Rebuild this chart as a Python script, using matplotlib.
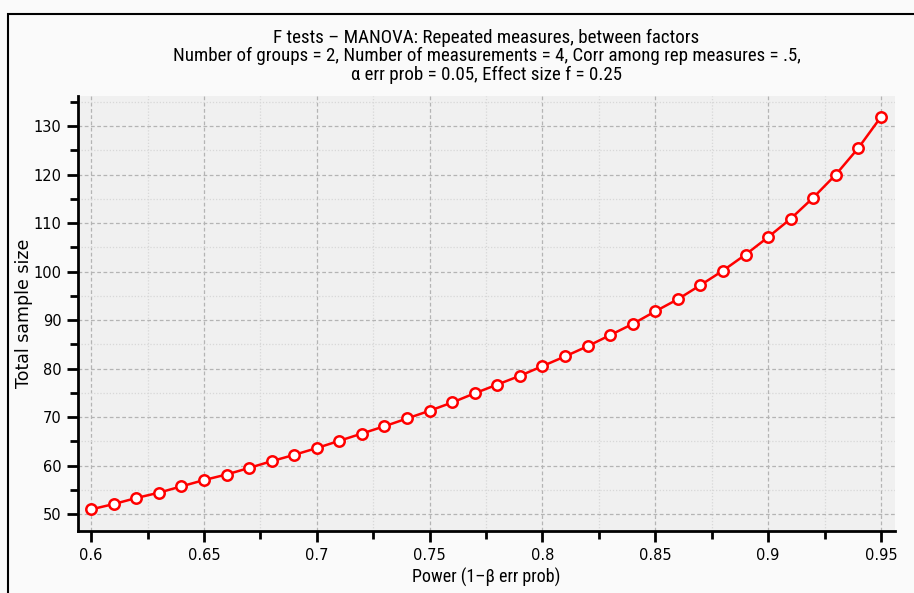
import matplotlib
matplotlib.use("Agg")
import matplotlib.pyplot as plt
from matplotlib.ticker import MultipleLocator, FixedLocator
from matplotlib.patches import Rectangle

power = [0.60, 0.61, 0.62, 0.63, 0.64, 0.65, 0.66, 0.67, 0.68, 0.69,
         0.70, 0.71, 0.72, 0.73, 0.74, 0.75, 0.76, 0.77, 0.78, 0.79,
         0.80, 0.81, 0.82, 0.83, 0.84, 0.85, 0.86, 0.87, 0.88, 0.89,
         0.90, 0.91, 0.92, 0.93, 0.94, 0.95]
sample_size = [50.96, 52.05, 53.3, 54.4, 55.7, 57.0, 58.15, 59.5, 60.9, 62.2,
               63.6, 65.1, 66.6, 68.1, 69.7, 71.3, 73.0, 74.9, 76.7, 78.5,
               80.5, 82.5, 84.6, 86.9, 89.2, 91.8, 94.3, 97.2, 100.2, 103.5,
               107.1, 110.9, 115.25, 120.0, 125.5, 131.9]
x_ticks = [0.6, 0.65, 0.7, 0.75, 0.8, 0.85, 0.9, 0.95]
x_tick_labels = ["0.6", "0.65", "0.7", "0.75", "0.8", "0.85", "0.9", "0.95"]
y_ticks = [50, 60, 70, 80, 90, 100, 110, 120, 130]

title = "F tests – MANOVA: Repeated measures, between factors"
subtitle = ("Number of groups = 2, Number of measurements = 4, Corr among rep measures = .5,\n"
            "α err prob = 0.05, Effect size f = 0.25")

cond = ["Roboto Condensed", "DejaVu Sans"]
plt.rcParams['font.family'] = ["DejaVu Sans"]

fig = plt.figure(figsize=(9.14, 5.93), dpi=100)
fig.patch.set_facecolor("#fafafa")
# outer frame
fig.patches.append(Rectangle((8/914, -0.01), 1.0, 1 - 14/593 + 0.01,
                             transform=fig.transFigure, fill=False,
                             edgecolor="black", linewidth=1.5))

ax = fig.add_axes([78/914, 1 - 531/593, (895 - 78)/914, (531 - 96)/593])
ax.set_facecolor("#f0f0f0")

ax.plot(power, sample_size, color="red", linewidth=1.8, marker="o",
        markersize=7.5, markerfacecolor="white", markeredgecolor="red",
        markeredgewidth=1.8, zorder=3)

ax.set_xlim(0.5942, 0.9562)
ax.set_ylim(46.5, 136.2)

ax.xaxis.set_major_locator(FixedLocator(x_ticks))
ax.set_xticklabels(x_tick_labels)
ax.xaxis.set_minor_locator(MultipleLocator(0.025))
ax.yaxis.set_major_locator(FixedLocator(y_ticks))
ax.yaxis.set_minor_locator(MultipleLocator(5))

ax.grid(which="major", color="#b4b4b4", linestyle=(0, (3, 2)), linewidth=0.9)
ax.grid(which="minor", color="#d8d8d8", linestyle=(0, (1, 1.5)), linewidth=0.9)
ax.set_axisbelow(True)

for s in ["top", "right"]:
    ax.spines[s].set_visible(False)
for s in ["left", "bottom"]:
    ax.spines[s].set_linewidth(2)
    ax.spines[s].set_color("black")

ax.tick_params(which="major", direction="out", length=8, width=2, labelsize=10.5,
               colors="black", pad=4)
ax.tick_params(which="minor", direction="out", length=6, width=2, colors="black")

ax.set_xlabel("Power (1–β err prob)", fontsize=13, family=cond, labelpad=4)
ax.set_ylabel("Total sample size", fontsize=12.5, va="center")
ax.yaxis.set_label_coords(-0.066, 0.5)

cx = (78 + 895) / 2 / 914
fig.text(cx, 1 - 38/593, title, ha="center", va="center", fontsize=13.7, family=cond)
fig.text(cx, 1 - 65.5/593, subtitle, ha="center", va="center", fontsize=13.6,
         family=cond, linespacing=1.08)

fig.savefig("out.png", dpi=100, facecolor=fig.get_facecolor())
